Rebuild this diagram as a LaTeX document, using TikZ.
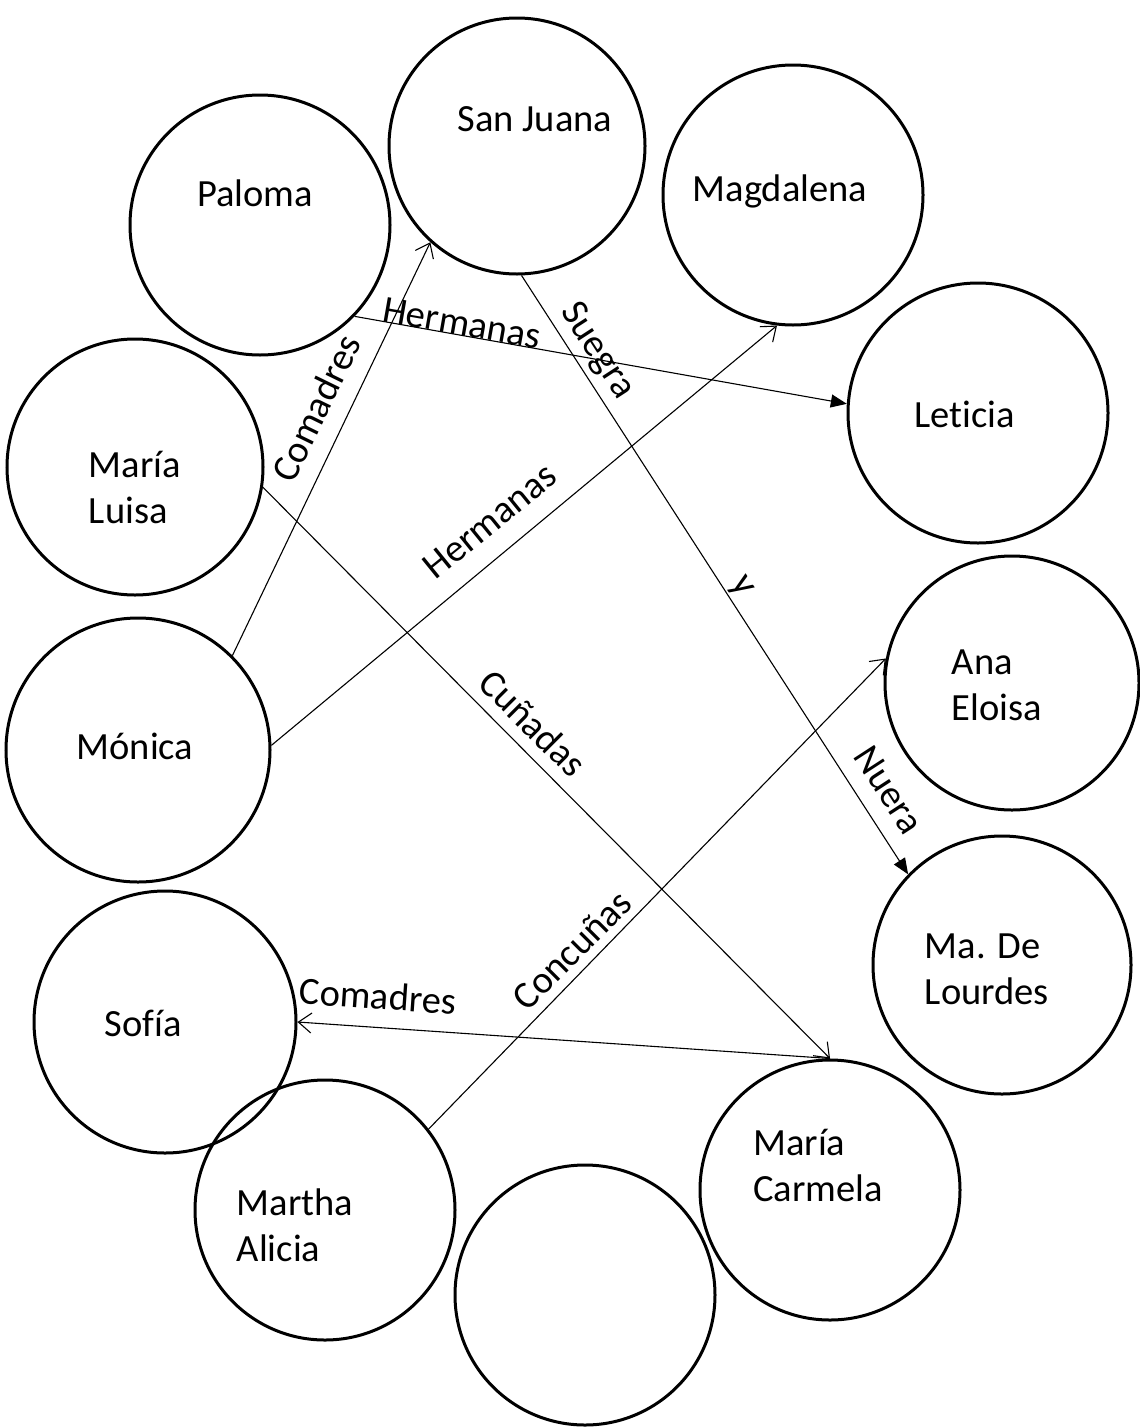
\documentclass[tikz,border=0pt]{standalone}
\usepackage{fontspec}
\setmainfont{Carlito}[Ligatures=NoCommon]
\usetikzlibrary{arrows.meta}
\begin{document}
\begin{tikzpicture}[x=1pt,y=-1pt,
  person/.style={circle,draw,line width=3pt,minimum size=#1,inner sep=0pt},
  person/.default=260pt,
  who/.style={font=\fontsize{38.5}{46}\selectfont,align=left,inner sep=0pt},
  lab/.style={font=\fontsize{38.5}{46}\selectfont,inner sep=0pt},
  rel/.style={line width=1.1pt},
  opentip/.style={rel,-{Straight Barb[length=13pt,width=20pt,line width=1.1pt]}},
  filledtip/.style={rel,-{Triangle[length=16pt,width=13pt]}}
]
\fill[white] (0,0) rectangle (1140,1427);
\useasboundingbox (0,0) rectangle (1140,1427);

% people
\node[person=256pt] (sanjuana) at (517,146) {};
\node[person] (paloma) at (260,225) {};
\node[person] (magdalena) at (793,195) {};
\node[person] (leticia) at (978,413) {};
\node[person=256pt] (marialuisa) at (135,467) {};
\node[person=264pt] (monica) at (138,750) {};
\node[person=254pt] (anaeloisa) at (1012,683) {};
\node[person=258pt] (lourdes) at (1002,965) {};
\node[person=262pt] (sofia) at (165,1022) {};
\node[person] (martha) at (325,1210) {};
\node[person] (blank) at (585,1295) {};
\node[person] (carmela) at (830,1190) {};

% names
\node[who] (tsanjuana) at (535,119) {San Juana};
\node[who] (tpaloma) at (255,193) {Paloma};
\node[who] (tmagdalena) at (780,191) {Magdalena};
\node[who] (tleticia) at (965,414) {Leticia};
\node[who] (tmarialuisa) at (135,487) {María\\Luisa};
\node[who] (tmonica) at (135,746) {Mónica};
\node[who] (tanaeloisa) at (997,685) {Ana\\Eloisa};
\node[who] (tlourdes) at (987,969) {Ma. De\\Lourdes};
\node[who] (tsofia) at (143,1023) {Sofía};
\node[who] (tmartha) at (295,1225) {Martha\\Alicia};
\node[who] (tcarmela) at (818,1165) {María\\Carmela};

% relations
\draw[filledtip] (paloma.-44) -- (leticia.176.5);
\draw[opentip] (monica.45) -- (sanjuana.228);
\draw[opentip] (monica.2) -- (magdalena.263);
\draw[filledtip] (sanjuana.-88) -- (lourdes.136);
\draw[opentip] (marialuisa.-9.4) -- (carmela.90);
\draw[opentip] (carmela.90) -- (sofia.0);
\draw[opentip] (martha.38.3) -- (anaeloisa.169.7);

% relation labels
\node[lab,rotate=-10] (l1) at (462,323) {Hermanas};
\node[lab,rotate=64] (l2) at (316,408) {Comadres};
\node[lab,rotate=39] (l3) at (490,521) {Hermanas};
\node[lab,rotate=-57] (l4) at (597,351) {Suegra};
\node[lab,rotate=-57] (l5) at (740,587) {y};
\node[lab,rotate=-57] (l6) at (889,790) {Nuera};
\node[lab,rotate=-45] (l7) at (533,723) {Cuñadas};
\node[lab,rotate=-4] (l8) at (378,996) {Comadres};
\node[lab,rotate=45] (l9) at (572,950) {Concuñas};
\end{tikzpicture}
\end{document}
